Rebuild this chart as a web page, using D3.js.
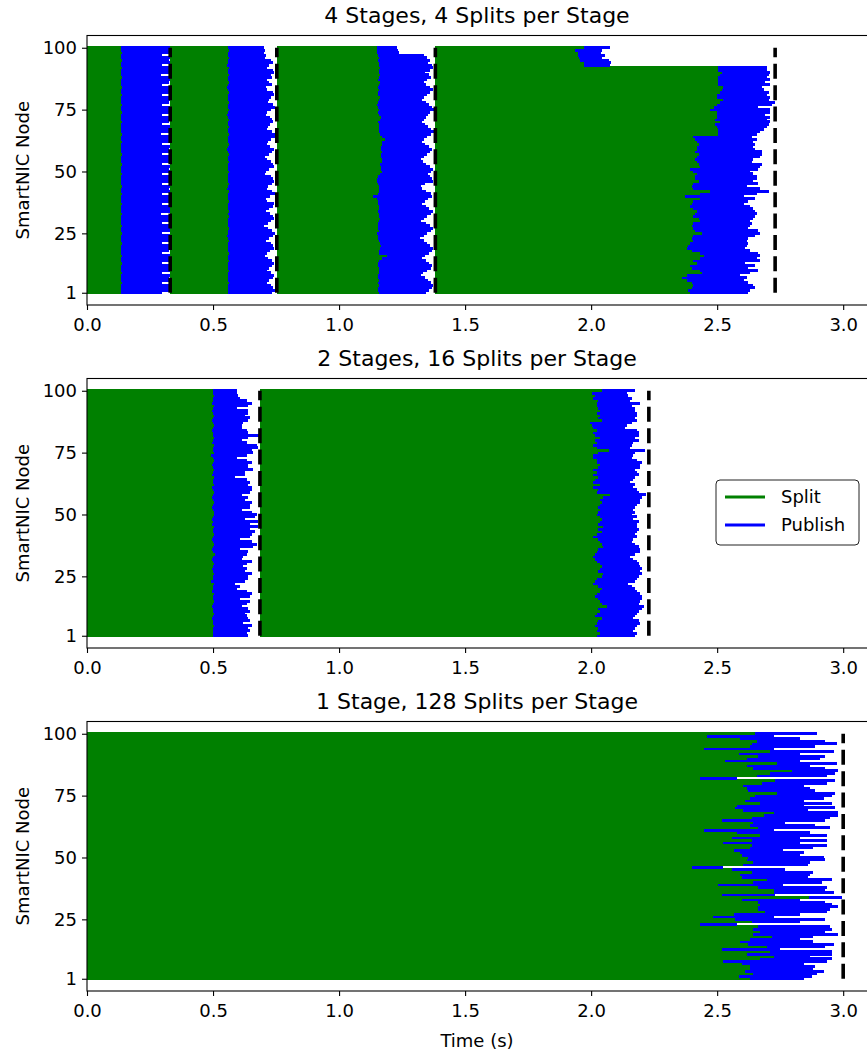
<!DOCTYPE html>
<html>
<head>
<meta charset="utf-8">
<script src="https://cdn.jsdelivr.net/npm/d3@7"></script>
<style>
  body { margin: 0; background: #fff; }
  svg { display: block; font-family: "DejaVu Sans", sans-serif; }
</style>
</head>
<body>
<svg id="chart" width="867" height="1057"></svg>
<script>
// ---- Data: per-node end times (seconds). Every list runs from node 100 (top row) down to node 1. ----
const nodeIds = d3.range(100, 0, -1);
const yTicks = [1, 25, 50, 75, 100];
const xTicks = [0, 0.5, 1.0, 1.5, 2.0, 2.5, 3.0];
const seriesNames = ["Split", "Publish"];
const seriesColors = ["#008000", "#0000ff"];
const panelTitles = ["4 Stages, 4 Splits per Stage", "2 Stages, 16 Splits per Stage", "1 Stage, 128 Splits per Stage"];

// 4 stages: stage barrier times
const aStageEnds = [0.330, 0.753, 1.382, 2.730];
const a1Split = [
0.136,0.135,0.137,0.134,0.136,0.138,0.135,0.136,0.137,0.135,
0.134,0.136,0.137,0.135,0.136,0.134,0.138,0.136,0.135,0.137,
0.136,0.135,0.134,0.137,0.136,0.135,0.138,0.136,0.134,0.135,
0.137,0.136,0.135,0.136,0.134,0.137,0.135,0.136,0.138,0.135,
0.136,0.134,0.135,0.137,0.136,0.135,0.136,0.138,0.134,0.136,
0.135,0.137,0.136,0.135,0.134,0.136,0.137,0.135,0.136,0.138,
0.135,0.136,0.134,0.137,0.135,0.136,0.135,0.137,0.136,0.134,
0.136,0.135,0.138,0.136,0.135,0.137,0.134,0.136,0.135,0.137,
0.136,0.135,0.136,0.134,0.137,0.135,0.136,0.138,0.135,0.136,
0.134,0.137,0.135,0.136,0.135,0.137,0.136,0.135,0.134,0.136];
const a1Publish = [
0.328,0.330,0.327,0.296,0.329,0.326,0.328,0.297,0.330,0.327,
0.329,0.295,0.328,0.330,0.326,0.297,0.329,0.327,0.328,0.296,
0.330,0.328,0.327,0.297,0.329,0.330,0.326,0.296,0.328,0.329,
0.327,0.297,0.330,0.328,0.329,0.295,0.326,0.330,0.328,0.297,
0.329,0.327,0.330,0.296,0.328,0.329,0.327,0.297,0.330,0.326,
0.328,0.296,0.329,0.330,0.327,0.297,0.328,0.326,0.330,0.296,
0.329,0.328,0.330,0.297,0.327,0.329,0.328,0.295,0.330,0.327,
0.328,0.297,0.326,0.330,0.329,0.296,0.328,0.330,0.327,0.297,
0.330,0.328,0.327,0.296,0.329,0.330,0.328,0.297,0.326,0.329,
0.328,0.296,0.330,0.327,0.329,0.297,0.328,0.330,0.326,0.296];
const a2Split = [
0.560,0.562,0.558,0.561,0.563,0.559,0.560,0.557,0.562,0.561,
0.559,0.563,0.560,0.558,0.562,0.561,0.557,0.560,0.563,0.559,
0.561,0.558,0.562,0.560,0.559,0.564,0.561,0.557,0.560,0.562,
0.558,0.561,0.563,0.559,0.560,0.562,0.558,0.561,0.560,0.563,
0.559,0.557,0.561,0.562,0.560,0.558,0.563,0.561,0.559,0.560,
0.562,0.560,0.558,0.561,0.559,0.563,0.560,0.557,0.562,0.561,
0.560,0.559,0.562,0.558,0.561,0.560,0.563,0.559,0.562,0.560,
0.558,0.561,0.560,0.563,0.559,0.561,0.557,0.560,0.562,0.559,
0.561,0.560,0.558,0.562,0.560,0.559,0.563,0.561,0.558,0.560,
0.562,0.559,0.561,0.560,0.558,0.562,0.560,0.561,0.559,0.560];
const a2Publish = [
0.702,0.705,0.703,0.712,0.708,0.731,0.736,0.722,0.715,0.739,
0.741,0.728,0.733,0.716,0.724,0.735,0.709,0.713,0.738,0.742,
0.729,0.723,0.718,0.736,0.745,0.731,0.714,0.710,0.727,0.733,
0.739,0.725,0.720,0.716,0.734,0.748,0.752,0.729,0.718,0.713,
0.726,0.740,0.735,0.721,0.708,0.715,0.730,0.737,0.743,0.724,
0.712,0.706,0.728,0.738,0.741,0.733,0.719,0.714,0.735,0.744,
0.727,0.709,0.716,0.740,0.736,0.722,0.711,0.725,0.738,0.742,
0.730,0.717,0.703,0.720,0.734,0.745,0.739,0.723,0.712,0.729,
0.737,0.741,0.726,0.714,0.708,0.719,0.733,0.740,0.735,0.721,
0.716,0.728,0.742,0.737,0.724,0.713,0.730,0.739,0.744,0.732];
const a3Split = [
1.150,1.152,1.149,1.155,1.158,1.156,1.160,1.157,1.161,1.159,
1.158,1.162,1.160,1.156,1.163,1.160,1.155,1.157,1.156,1.155,
1.161,1.158,1.156,1.150,1.154,1.157,1.156,1.160,1.165,1.161,
1.156,1.158,1.160,1.157,1.159,1.162,1.171,1.183,1.172,1.169,
1.168,1.166,1.170,1.165,1.167,1.171,1.169,1.164,1.168,1.166,
1.169,1.163,1.155,1.152,1.150,1.154,1.157,1.160,1.158,1.156,
1.136,1.150,1.156,1.155,1.157,1.158,1.156,1.160,1.159,1.162,
1.157,1.155,1.156,1.154,1.157,1.150,1.153,1.155,1.158,1.162,
1.166,1.163,1.160,1.157,1.189,1.172,1.160,1.156,1.155,1.158,
1.160,1.157,1.155,1.156,1.158,1.154,1.157,1.155,1.156,1.158];
const a3Publish = [
1.229,1.233,1.238,1.335,1.348,1.360,1.352,1.368,1.374,1.362,
1.341,1.355,1.366,1.350,1.338,1.345,1.359,1.372,1.361,1.347,
1.337,1.329,1.343,1.356,1.368,1.375,1.360,1.351,1.343,1.336,
1.328,1.340,1.353,1.366,1.381,1.364,1.349,1.338,1.330,1.342,
1.357,1.369,1.361,1.348,1.337,1.326,1.333,1.345,1.360,1.372,
1.366,1.354,1.359,1.369,1.372,1.341,1.325,1.329,1.345,1.363,
1.370,1.352,1.339,1.331,1.346,1.358,1.371,1.365,1.348,1.336,
1.327,1.343,1.360,1.372,1.366,1.350,1.338,1.322,1.335,1.349,
1.362,1.374,1.369,1.355,1.341,1.330,1.344,1.358,1.370,1.363,
1.347,1.333,1.326,1.339,1.352,1.366,1.374,1.368,1.355,1.343];
const a4Split = [
1.970,1.937,1.946,1.946,1.950,1.957,1.970,1.973,2.505,2.505,
2.519,2.512,2.505,2.505,2.505,2.505,2.525,2.519,2.512,2.499,
2.499,2.525,2.512,2.499,2.486,2.472,2.499,2.499,2.499,2.492,
2.512,2.492,2.499,2.505,2.505,2.505,2.406,2.413,2.419,2.426,
2.419,2.419,2.413,2.426,2.419,2.413,2.419,2.426,2.433,2.393,
2.406,2.419,2.413,2.413,2.426,2.406,2.399,2.406,2.472,2.433,
2.373,2.433,2.406,2.399,2.393,2.406,2.419,2.413,2.406,2.426,
2.433,2.406,2.399,2.406,2.413,2.439,2.406,2.399,2.406,2.393,
2.386,2.380,2.399,2.433,2.446,2.433,2.406,2.419,2.393,2.399,
2.433,2.439,2.380,2.360,2.380,2.399,2.406,2.399,2.386,2.393];
const a4Publish = [
2.075,2.042,2.038,2.056,2.042,2.069,2.079,2.075,2.697,2.697,
2.710,2.704,2.697,2.710,2.690,2.710,2.677,2.684,2.704,2.697,
2.710,2.704,2.730,2.717,2.664,2.710,2.710,2.690,2.710,2.697,
2.710,2.704,2.697,2.684,2.671,2.657,2.638,2.657,2.644,2.651,
2.644,2.651,2.677,2.677,2.671,2.644,2.638,2.677,2.671,2.664,
2.631,2.644,2.657,2.657,2.644,2.664,2.618,2.671,2.704,2.657,
2.605,2.651,2.624,2.605,2.631,2.644,2.651,2.657,2.651,2.644,
2.631,2.638,2.631,2.624,2.664,2.671,2.651,2.624,2.618,2.624,
2.618,2.611,2.631,2.664,2.671,2.657,2.671,2.611,2.651,2.624,
2.664,2.631,2.591,2.618,2.605,2.624,2.644,2.651,2.631,2.624];

// 2 stages
const bStageEnds = [0.686, 2.229];
const b1Split = [
0.501,0.499,0.504,0.498,0.501,0.495,0.504,0.499,0.497,0.501,
0.503,0.499,0.495,0.501,0.504,0.498,0.496,0.501,0.499,0.503,
0.500,0.497,0.504,0.501,0.498,0.502,0.492,0.499,0.503,0.500,
0.497,0.501,0.504,0.499,0.495,0.502,0.498,0.501,0.504,0.497,
0.499,0.503,0.501,0.497,0.500,0.504,0.499,0.496,0.501,0.503,
0.502,0.499,0.495,0.501,0.497,0.504,0.500,0.498,0.503,0.501,
0.496,0.499,0.504,0.500,0.497,0.501,0.507,0.498,0.495,0.500,
0.504,0.499,0.497,0.501,0.503,0.498,0.500,0.491,0.502,0.499,
0.501,0.497,0.503,0.499,0.500,0.504,0.498,0.496,0.501,0.499,
0.503,0.500,0.497,0.501,0.499,0.504,0.498,0.501,0.500,0.499];
const b1Publish = [
0.594,0.597,0.601,0.607,0.634,0.653,0.640,0.594,0.640,0.640,
0.627,0.647,0.640,0.620,0.614,0.614,0.634,0.640,0.686,0.640,
0.614,0.634,0.673,0.680,0.653,0.660,0.634,0.594,0.634,0.653,
0.640,0.640,0.660,0.627,0.627,0.587,0.634,0.647,0.640,0.653,
0.653,0.647,0.614,0.640,0.627,0.653,0.647,0.647,0.614,0.653,
0.673,0.667,0.627,0.677,0.647,0.680,0.647,0.667,0.653,0.647,
0.607,0.653,0.673,0.660,0.607,0.640,0.634,0.620,0.614,0.653,
0.634,0.620,0.634,0.627,0.653,0.640,0.640,0.627,0.587,0.607,
0.594,0.634,0.653,0.647,0.607,0.647,0.634,0.614,0.640,0.647,
0.627,0.634,0.640,0.647,0.620,0.653,0.640,0.647,0.634,0.640];
const b2Split = [
2.042,2.003,2.016,2.009,2.029,2.022,2.022,2.029,2.036,2.022,
2.036,2.029,2.042,1.996,2.003,2.009,2.022,2.009,2.016,2.036,
2.016,2.022,2.009,2.022,2.069,2.029,2.009,2.009,2.022,2.022,
2.036,2.029,2.009,2.022,2.009,2.029,2.016,2.009,2.036,2.009,
2.029,2.022,2.075,2.049,2.036,2.042,2.036,2.029,2.036,2.029,
2.022,2.036,2.042,2.036,2.029,2.049,2.029,2.042,2.022,2.009,
2.029,2.036,2.042,2.049,2.029,2.022,2.016,2.009,2.016,2.022,
2.036,2.042,2.036,2.029,2.049,2.042,2.022,2.016,2.009,2.029,
2.042,2.036,2.022,2.016,2.029,2.036,2.042,2.062,2.029,2.036,
2.022,2.016,2.042,2.029,2.022,2.016,2.029,2.022,2.036,2.022];
const b2Publish = [
2.175,2.142,2.148,2.161,2.155,2.194,2.161,2.175,2.175,2.181,
2.181,2.175,2.181,2.161,2.142,2.135,2.181,2.188,2.188,2.175,
2.188,2.168,2.161,2.155,2.214,2.175,2.168,2.161,2.181,2.201,
2.194,2.194,2.175,2.181,2.188,2.175,2.168,2.155,2.175,2.168,
2.181,2.188,2.218,2.201,2.194,2.194,2.181,2.175,2.168,2.175,
2.161,2.181,2.168,2.188,2.181,2.181,2.188,2.181,2.175,2.181,
2.168,2.161,2.175,2.188,2.194,2.194,2.175,2.155,2.168,2.181,
2.188,2.194,2.201,2.194,2.201,2.188,2.181,2.175,2.148,2.161,
2.175,2.181,2.194,2.201,2.201,2.194,2.188,2.208,2.201,2.188,
2.181,2.175,2.168,2.188,2.194,2.181,2.175,2.168,2.181,2.175];

// 1 stage
const cStageEnds = [3.000];
const c1Split = [
2.651,2.459,2.591,2.657,2.638,2.631,2.446,2.710,2.585,2.664,
2.618,2.532,2.737,2.618,2.644,2.796,2.710,2.657,2.432,2.730,
2.677,2.604,2.618,2.624,2.737,2.651,2.631,2.611,2.671,2.578,
2.571,2.604,2.724,2.684,2.638,2.519,2.644,2.631,2.664,2.446,
2.578,2.671,2.558,2.638,2.525,2.638,2.631,2.565,2.591,2.598,
2.624,2.618,2.644,2.604,2.399,2.558,2.638,2.591,2.598,2.697,
2.644,2.505,2.664,2.724,2.724,2.519,2.865,2.598,2.664,2.671,
2.664,2.664,2.690,2.565,2.485,2.571,2.638,2.432,2.664,2.644,
2.671,2.644,2.717,2.631,2.591,2.624,2.697,2.519,2.710,2.618,
2.724,2.671,2.525,2.598,2.631,2.631,2.611,2.644,2.585,2.631];
const c1Publish = [
2.895,2.724,2.829,2.929,2.975,2.889,2.724,2.962,2.829,2.929,
2.909,2.829,2.975,2.869,2.929,2.981,2.968,2.935,2.578,2.968,
2.935,2.843,2.869,2.889,2.968,2.955,2.922,2.843,2.955,2.843,
2.968,2.862,2.981,2.981,2.948,2.929,2.770,2.889,2.948,2.724,
2.869,2.935,2.829,2.935,2.829,2.935,2.882,2.763,2.843,2.829,
2.922,2.929,2.869,2.862,2.525,2.770,2.882,2.869,2.862,2.955,
2.915,2.763,2.935,2.929,2.962,2.728,2.995,2.829,2.929,2.955,
2.981,2.948,2.935,2.829,2.724,2.929,2.829,2.578,2.948,2.955,
2.929,2.981,2.882,2.829,2.882,2.962,2.929,2.750,2.955,2.955,
2.869,2.955,2.935,2.843,2.889,2.882,2.922,2.895,2.875,2.843];

// ---- Layout ----
const svg = d3.select("#chart");
const plotLeft = 87, plotRight = 881, plotH = 269.5;
const tickFont = 18, labelFont = 18, titleFont = 22;
const panels = [
  { title: panelTitles[0], top: 35.5, ends: aStageEnds,
    stages: [[a1Split, a1Publish], [a2Split, a2Publish], [a3Split, a3Publish], [a4Split, a4Publish]] },
  { title: panelTitles[1], top: 378.5, ends: bStageEnds,
    stages: [[b1Split, b1Publish], [b2Split, b2Publish]] },
  { title: panelTitles[2], top: 721.5, ends: cStageEnds,
    stages: [[c1Split, c1Publish]] }
];

const x = d3.scaleLinear().domain([0, 3.15]).range([plotLeft, plotRight]);

panels.forEach((p, pi) => {
  const y = d3.scaleLinear().domain([-3.95, 104.95]).range([p.top + plotH, p.top]);
  const g = svg.append("g");

  g.append("clipPath").attr("id", "clip" + pi)
    .append("rect").attr("x", plotLeft).attr("y", p.top)
    .attr("width", plotRight - plotLeft).attr("height", plotH);

  const marks = g.append("g").attr("clip-path", `url(#clip${pi})`);

  // one horizontal segment per node and phase, drawn from node 1 upward
  const segs = [];
  for (let i = nodeIds.length - 1; i >= 0; i--) {
    const node = nodeIds[i];
    p.stages.forEach(([split, publish], s) => {
      const start = s === 0 ? 0 : p.ends[s - 1];
      segs.push({ node, x0: start, x1: split[i], c: seriesColors[0] });
      segs.push({ node, x0: split[i], x1: publish[i], c: seriesColors[1] });
    });
  }
  marks.selectAll("line.seg").data(segs).join("line")
    .attr("class", "seg")
    .attr("x1", d => x(d.x0)).attr("x2", d => x(d.x1))
    .attr("y1", d => y(d.node)).attr("y2", d => y(d.node))
    .attr("stroke", d => d.c).attr("stroke-width", 3)
    .attr("shape-rendering", "crispEdges");

  // stage barriers
  marks.selectAll("line.barrier").data(p.ends).join("line")
    .attr("class", "barrier")
    .attr("x1", d => x(d)).attr("x2", d => x(d))
    .attr("y1", y(1)).attr("y2", y(100))
    .attr("stroke", "#000").attr("stroke-width", 3.6)
    .attr("stroke-dasharray", "15,6.4");

  // axes
  const xAxis = d3.axisBottom(x).tickValues(xTicks).tickFormat(d3.format(".1f"))
    .tickSize(5).tickPadding(8);
  const gx = g.append("g").attr("transform", `translate(0,${p.top + plotH})`).call(xAxis);
  const yAxis = d3.axisLeft(y).tickValues(yTicks).tickSize(5).tickPadding(5);
  const gy = g.append("g").attr("transform", `translate(${plotLeft},0)`).call(yAxis);
  [gx, gy].forEach(a => {
    a.select(".domain").remove();
    a.selectAll("text").attr("font-size", tickFont).attr("font-family", "DejaVu Sans").attr("fill", "#000");
    a.selectAll("line").attr("stroke", "#000").attr("stroke-width", 1.1);
  });

  // spines (the right spine lies beyond the visible area)
  g.append("rect").attr("x", plotLeft).attr("y", p.top)
    .attr("width", plotRight - plotLeft).attr("height", plotH)
    .attr("fill", "none").attr("stroke", "#000").attr("stroke-width", 1.1);

  g.append("text").attr("x", 477).attr("y", p.top - 13)
    .attr("text-anchor", "middle").attr("font-size", titleFont).text(p.title);

  g.append("text")
    .attr("transform", `translate(29,${p.top + plotH / 2}) rotate(-90)`)
    .attr("text-anchor", "middle").attr("font-size", labelFont).text("SmartNIC Node");
});

svg.append("text").attr("x", 477).attr("y", 1047)
  .attr("text-anchor", "middle").attr("font-size", labelFont).text("Time (s)");

// legend
const lg = svg.append("g").attr("transform", "translate(716,480)");
lg.append("rect").attr("width", 143).attr("height", 65).attr("rx", 4)
  .attr("fill", "#fff").attr("fill-opacity", 0.8).attr("stroke", "#222").attr("stroke-width", 1);
seriesNames.forEach((name, i) => {
  const yy = 17 + i * 28;
  lg.append("line").attr("x1", 9).attr("x2", 49).attr("y1", yy).attr("y2", yy)
    .attr("stroke", seriesColors[i]).attr("stroke-width", 2.8);
  lg.append("text").attr("x", 65).attr("y", yy).attr("dy", "0.35em")
    .attr("font-size", 18).text(name);
});
</script>
</body>
</html>
